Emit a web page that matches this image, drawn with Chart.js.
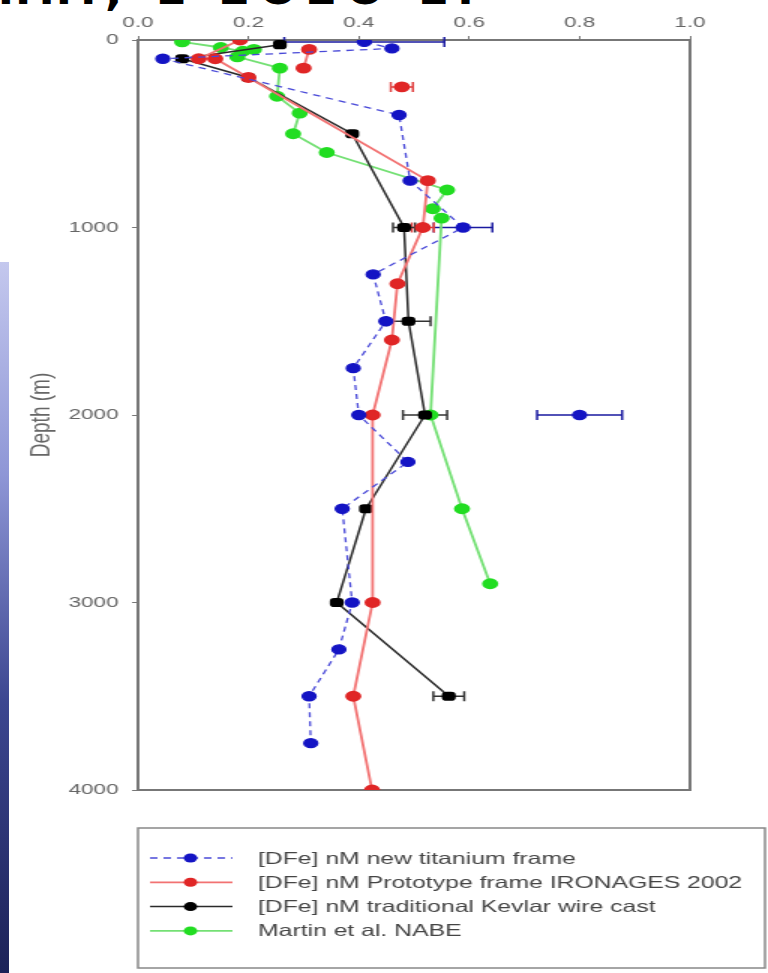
<!DOCTYPE html>
<html>
<head>
<meta charset="utf-8">
<title>Dissolved Fe depth profiles</title>
<script src="https://cdn.jsdelivr.net/npm/chart.js@4.4.1/dist/chart.umd.min.js"></script>
<style>
  html, body { margin: 0; padding: 0; background: #fff; overflow: hidden; }
  #wrap { position: relative; width: 768px; height: 973px; overflow: hidden; }
  #chart { position: absolute; left: 0; top: 0; filter: blur(0.6px); }
  #strip { position: absolute; left: 0; top: 262px; width: 9px; height: 711px;
           background: linear-gradient(#c4c8ee, #8e96d6 30%, #3c4690 62%, #1c2258); }
  #head { position: absolute; left: -2px; top: -39px; font: bold 46px "DejaVu Sans", sans-serif;
          color: #000; white-space: nowrap; letter-spacing: 8px; }
</style>
</head>
<body>
<div id="wrap">
  <div id="head">nn., 1 2O2O 1.</div>
  <div id="strip"></div>
  <canvas id="chart" width="512" height="973" style="width:768px;height:973px"></canvas>
</div>
<script>
// values: dissolved Fe (nM) against depth (m)
// null entries break the line so the following point stands on its own

var titaniumDepth = [10, 45, 100, 400, 750, 1000, 1250, 1500, 1750, 2000, 2250, 2500, 3000, 3250, 3500, 3750, null, 2000];
var titaniumFe    = [0.41, 0.46, 0.045, 0.473, 0.493, 0.589, 0.426, 0.449, 0.39, 0.40, 0.489, 0.37, 0.388, 0.364, 0.31, 0.313, null, 0.80];
var titaniumErr   = [0.145, 0, 0, 0, 0, 0.053, 0, 0, 0, 0, 0, 0, 0, 0, 0, 0, 0, 0.077];

var prototypeDepth = [0, 100, 100, 200, 750, 1000, 1300, 1600, 2000, 3000, 3500, 4000, null, 50, 150, null, 250];
var prototypeFe    = [0.185, 0.11, 0.14, 0.2, 0.525, 0.516, 0.47, 0.46, 0.425, 0.425, 0.39, 0.424, null, 0.31, 0.30, null, 0.478];
var prototypeErr   = [0, 0, 0, 0, 0, 0.02, 0, 0, 0, 0, 0, 0, 0, 0, 0, 0, 0.02];

var kevlarDepth = [25, 100, 200, 500, 1000, 1500, 2000, 2500, 3000, 3500];
var kevlarFe    = [0.257, 0.08, 0.2, 0.388, 0.482, 0.49, 0.52, 0.413, 0.36, 0.563];
var kevlarErr   = [0, 0, 0, 0, 0.02, 0.04, 0.04, 0, 0, 0.028];

var nabeDepth = [10, 40, 60, 50, 90, 150, 300, 390, 500, 600, 800, 900, 950, 2000, 2500, 2900];
var nabeFe    = [0.08, 0.15, 0.19, 0.21, 0.18, 0.257, 0.252, 0.293, 0.281, 0.342, 0.56, 0.534, 0.55, 0.53, 0.587, 0.638];

var feTicks = [0, 0.2, 0.4, 0.6, 0.8, 1.0];
var depthTicks = [0, 1000, 2000, 3000, 4000];

var seriesNames = [
  '[DFe] nM new titanium frame',
  '[DFe] nM Prototype frame IRONAGES 2002',
  '[DFe] nM traditional Kevlar wire cast',
  'Martin et al. NABE'
];

function toPoints(xs, ys) {
  return xs.map(function(v, i) { return { x: v, y: ys[i] }; });
}

var font = '"Liberation Sans", Arial, sans-serif';

// horizontal error bars with small caps
var errorBars = {
  id: 'errorBars',
  beforeDatasetsDraw: function(chart) {
    var ctx = chart.ctx, xs = chart.scales.x, ys = chart.scales.y;
    chart.data.datasets.forEach(function(ds) {
      if (!ds.errors) return;
      ctx.save();
      ctx.strokeStyle = ds.errorColor;
      ctx.lineWidth = 1.5;
      ds.data.forEach(function(p, i) {
        var e = ds.errors[i];
        if (!e || p.x === null) return;
        var yp = ys.getPixelForValue(p.y);
        var x0 = xs.getPixelForValue(p.x - e), x1 = xs.getPixelForValue(p.x + e);
        ctx.beginPath();
        ctx.moveTo(x0, yp); ctx.lineTo(x1, yp);
        ctx.moveTo(x0, yp - 5); ctx.lineTo(x0, yp + 5);
        ctx.moveTo(x1, yp - 5); ctx.lineTo(x1, yp + 5);
        ctx.stroke();
      });
      ctx.restore();
    });
  }
};

// close the plot box on the right and bottom
var frame = {
  id: 'frame',
  beforeDatasetsDraw: function(chart) {
    var a = chart.chartArea, ctx = chart.ctx;
    ctx.save();
    ctx.strokeStyle = '#777';
    ctx.lineWidth = 2;
    ctx.beginPath();
    ctx.moveTo(a.left, a.bottom); ctx.lineTo(a.right, a.bottom); ctx.lineTo(a.right, a.top);
    ctx.stroke();
    ctx.restore();
  }
};

// boxed legend under the plot
var boxLegend = {
  id: 'boxLegend',
  afterDraw: function(chart) {
    var ctx = chart.ctx, a = chart.chartArea;
    var top = a.bottom + 38, bottom = chart.height - 5, right = chart.width - 2;
    ctx.save();
    ctx.strokeStyle = '#888';
    ctx.lineWidth = 1.5;
    ctx.strokeRect(a.left, top, right - a.left, bottom - top);
    ctx.font = '16.5px ' + font;
    ctx.textBaseline = 'middle';
    var shown = chart.data.datasets.filter(function(ds) { return ds.label; });
    shown.forEach(function(ds, i) {
      var yy = top + 30 + i * 24.3;
      ctx.strokeStyle = ds.borderColor;
      ctx.lineWidth = ds.borderWidth;
      ctx.setLineDash(ds.borderDash || []);
      ctx.beginPath();
      ctx.moveTo(a.left + 8, yy); ctx.lineTo(a.left + 63, yy);
      ctx.stroke();
      ctx.setLineDash([]);
      ctx.fillStyle = ds.pointBackgroundColor;
      ctx.beginPath();
      ctx.arc(a.left + 35, yy, 4.5, 0, Math.PI * 2);
      ctx.fill();
      ctx.fillStyle = '#444';
      ctx.fillText(ds.label, a.left + 80, yy + 1);
    });
    ctx.restore();
  }
};

new Chart(document.getElementById('chart'), {
  type: 'line',
  data: {
    datasets: [{
      label: seriesNames[0],
      data: toPoints(titaniumFe, titaniumDepth),
      errors: titaniumErr,
      errorColor: '#1a1aa0',
      borderColor: '#4a4ad8',
      borderWidth: 1.3,
      borderDash: [5, 4],
      pointBackgroundColor: '#1414c4',
      pointBorderColor: '#1414c4'
    }, {
      label: seriesNames[1],
      data: toPoints(prototypeFe, prototypeDepth),
      errors: prototypeErr,
      errorColor: '#e04040',
      borderColor: '#f27272',
      borderWidth: 1.8,
      pointBackgroundColor: '#e02626',
      pointBorderColor: '#e02626'
    }, {
      label: seriesNames[2],
      data: toPoints(kevlarFe, kevlarDepth),
      errors: kevlarErr,
      errorColor: '#333',
      borderColor: '#2a2a2a',
      borderWidth: 1.5,
      pointBackgroundColor: '#000',
      pointBorderColor: '#000',
      pointStyle: 'rectRounded'
    }, {
      label: seriesNames[3],
      data: toPoints(nabeFe, nabeDepth),
      borderColor: '#74e074',
      borderWidth: 1.8,
      pointBackgroundColor: '#22dd22',
      pointBorderColor: '#22dd22'
    }]
  },
  options: {
    responsive: false,
    devicePixelRatio: 1,
    animation: false,
    spanGaps: false,
    layout: { padding: { left: 0, right: 52, top: 0, bottom: 183 } },
    elements: {
      point: { radius: 4.5, borderWidth: 0 },
      line: { tension: 0 }
    },
    plugins: {
      legend: { display: false },
      tooltip: { enabled: false }
    },
    scales: {
      x: {
        type: 'linear',
        position: 'top',
        min: 0,
        max: 1,
        afterFit: function(s) { s.height = 40; },
        afterBuildTicks: function(s) { s.ticks = feTicks.map(function(v) { return { value: v }; }); },
        ticks: {
          color: '#666',
          font: { family: font, size: 15 },
          padding: 4,
          callback: function(v) { return Number(v).toFixed(1); }
        },
        grid: { drawOnChartArea: false, drawTicks: true, tickLength: 4, color: '#777' },
        border: { color: '#777', width: 2 }
      },
      y: {
        type: 'linear',
        reverse: true,
        min: 0,
        max: 4000,
        afterFit: function(s) { s.width = 92; },
        afterBuildTicks: function(s) { s.ticks = depthTicks.map(function(v) { return { value: v }; }); },
        ticks: {
          color: '#666',
          font: { family: font, size: 15 },
          padding: 9,
          callback: function(v) { return String(v); }
        },
        title: {
          display: true,
          text: 'Depth (m)',
          color: '#666',
          font: { family: font, size: 19 },
          padding: { top: 16, bottom: 0 }
        },
        grid: { drawOnChartArea: false, drawTicks: true, tickLength: 4, color: '#777' },
        border: { color: '#777', width: 2 }
      }
    }
  },
  plugins: [frame, errorBars, boxLegend]
});
</script>
</body>
</html>
